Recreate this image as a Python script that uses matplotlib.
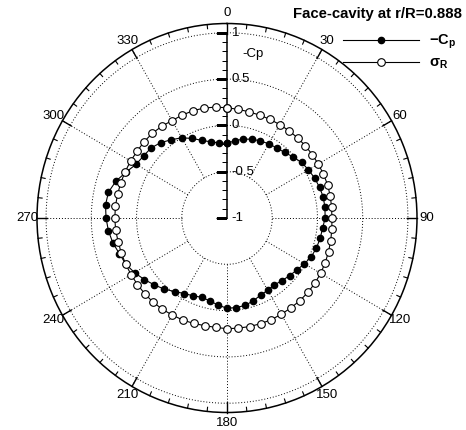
import numpy as np
import matplotlib
matplotlib.use('Agg')
import matplotlib.pyplot as plt

plt.rcParams['font.family'] = 'Liberation Sans'
plt.rcParams['mathtext.fontset'] = 'custom'
plt.rcParams['mathtext.rm'] = 'Liberation Sans'
plt.rcParams['mathtext.bf'] = 'Liberation Sans:bold'
plt.rcParams['mathtext.it'] = 'Liberation Sans:italic'

# blade angle (deg)
angle = [0, 6, 12, 18, 24, 30, 36, 42, 48, 54,
         60, 66, 72, 78, 84, 90, 96, 102, 108, 114,
         120, 126, 132, 138, 144, 150, 156, 162, 168, 174,
         180, 186, 192, 198, 204, 210, 216, 222, 228, 234,
         240, 246, 252, 258, 264, 270, 276, 282, 288, 294,
         300, 306, 312, 318, 324, 330, 336, 342, 348, 354]

# -Cp on the face at r/R=0.888
cp = [-0.195, -0.16, -0.13, -0.105, -0.09, -0.075, -0.065, -0.048, -0.015, 0.02,
      0.04, 0.06, 0.075, 0.088, 0.088, 0.085, 0.062, 0.053, 0.04, 0.022,
      -0.012, -0.045, -0.07, -0.09, -0.108, -0.1, -0.088, -0.06, -0.035, -0.028,
      -0.025, -0.055, -0.085, -0.1, -0.08, -0.058, -0.018, 0.034, 0.08, 0.13,
      0.18, 0.225, 0.25, 0.29, 0.318, 0.337, 0.35, 0.34, 0.29, 0.22,
      0.16, 0.14, 0.13, 0.095, 0.045, 0.0, -0.06, -0.12, -0.16, -0.185]

# local cavitation number
sigma = [0.19, 0.18, 0.172, 0.168, 0.166, 0.165, 0.165, 0.165, 0.165, 0.165,
         0.165, 0.167, 0.168, 0.166, 0.162, 0.16, 0.165, 0.172, 0.18, 0.188,
         0.195, 0.2, 0.202, 0.202, 0.2, 0.2, 0.202, 0.2, 0.198, 0.196,
         0.195, 0.188, 0.188, 0.197, 0.205, 0.21, 0.217, 0.222, 0.223, 0.223,
         0.224, 0.226, 0.228, 0.23, 0.238, 0.24, 0.24, 0.236, 0.234, 0.232,
         0.23, 0.228, 0.232, 0.232, 0.225, 0.215, 0.216, 0.218, 0.214, 0.204]

r_ticks = [-1, -0.5, 0, 0.5, 1]
r_labels = ['-1', '-0.5', '0', '0.5', '1']
theta_ticks = [0, 30, 60, 90, 120, 150, 180, 210, 240, 270, 300, 330]
theta_labels = ['0', '30', '60', '90', '120', '150', '180', '210', '240', '270', '300', '330']

th = np.deg2rad(angle + [angle[0]])
cp_c = cp + [cp[0]]
sg_c = sigma + [sigma[0]]

RMAX = 1.1

fig = plt.figure(figsize=(4.66, 4.30), dpi=100)
ax = fig.add_axes([37/466, 17.5/430, 380/466, 389/430], projection='polar')
ax.set_aspect('auto')
ax.set_theta_zero_location('N')
ax.set_theta_direction(-1)
ax.set_ylim(-1, RMAX)
ax.grid(False)
ax.set_yticks([])
ax.set_xticks([])
ax.spines['polar'].set_linewidth(1.1)

# rim ticks every 6 deg, longer every 30 deg
for a in range(0, 360, 6):
    t = np.deg2rad(a)
    if a % 30 == 0:
        ax.plot([t, t], [RMAX - 0.11, RMAX], color='k', lw=1.0, clip_on=False)
    else:
        ax.plot([t, t], [RMAX - 0.045, RMAX], color='k', lw=0.8, clip_on=False)
for a, lab in zip(theta_ticks, theta_labels):
    ax.text(np.deg2rad(a), 1.21, lab, ha='center', va='center', fontsize=9.5,
            clip_on=False)

# dotted grid
tt = np.linspace(0, 2*np.pi, 361)
dot = (0, (1, 2))
for rv in [-0.5, 0, 0.5, 1]:
    ax.plot(tt, np.full_like(tt, rv), color='k', lw=0.7, ls=dot)
for a in theta_ticks[1:]:
    ax.plot([np.deg2rad(a)]*2, [-0.5, RMAX], color='k', lw=0.7, ls=dot)

# radial axis along 0 deg
ax.plot([0, 0], [-1, 1], color='k', lw=1.1)
minor_r = np.round(np.arange(-1, 1.001, 0.1), 2)
ax.plot(np.zeros(len(minor_r)), minor_r, ls='none', marker=0, ms=3.5, mew=0.7, color='k')
ax.plot(np.zeros(len(r_ticks)), r_ticks, ls='none', marker=0, ms=8, mew=0.9, color='k')
for rv, lab in zip(r_ticks, r_labels):
    ax.annotate(lab, xy=(0, rv), xytext=(3.5, 0), textcoords='offset points',
                ha='left', va='center', fontsize=9.5)
ax.annotate('-Cp', xy=(0, 0.775), xytext=(11, 0), textcoords='offset points',
            ha='left', va='center', fontsize=9.5)

# data
l1, = ax.plot(th, cp_c, color='k', lw=0.8, marker='o', ms=4.5, mfc='k', mec='k',
              label=r'$\mathbf{-C}_\mathbf{p}$')
l2, = ax.plot(th, sg_c, color='k', lw=0.8, marker='o', ms=5.5, mfc='white', mec='k',
              mew=0.8, label=r'$\mathbf{\sigma}_\mathbf{R}$')

ax.legend(handles=[l1, l2], loc='center left', bbox_to_anchor=(343/466, 1 - 52/430),
          bbox_transform=fig.transFigure, frameon=False, fontsize=10.5,
          handlelength=5.2, handletextpad=0.7, labelspacing=0.3, borderpad=0,
          borderaxespad=0, numpoints=1)

fig.text(462/466, 1 - 14/430, 'Face-cavity at r/R=0.888', ha='right', va='center',
         fontsize=10.7, fontweight='bold')

fig.savefig('out.png', dpi=100)
